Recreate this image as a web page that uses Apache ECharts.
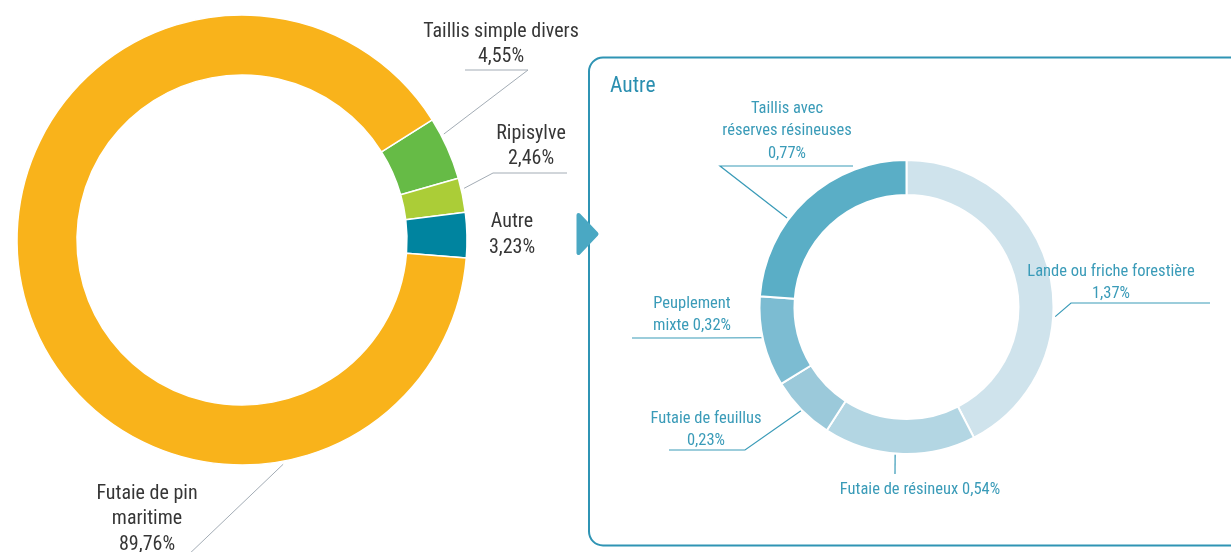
<!DOCTYPE html>
<html>
<head>
<meta charset="utf-8">
<script src="https://cdn.jsdelivr.net/npm/echarts@6/dist/echarts.min.js"></script>
<style>
  html, body { margin: 0; padding: 0; background: #ffffff; }
  #chart { width: 1231px; height: 552px; }
</style>
</head>
<body>
<div id="chart"></div>
<script>
// Répartition des peuplements forestiers (% de la surface)
const mainNames = ['Taillis simple divers', 'Ripisylve', 'Autre', 'Futaie de pin maritime'];
const mainValues = [4.55, 2.46, 3.23, 89.76];
const mainColors = ['#66bb46', '#abcd37', '#00849f', '#f9b31b'];

// Détail de la catégorie « Autre »
const autreNames = ['Lande ou friche forestière', 'Futaie de résineux', 'Futaie de feuillus', 'Peuplement mixte', 'Taillis avec réserves résineuses'];
const autreValues = [1.37, 0.54, 0.23, 0.32, 0.77];
const autreColors = ['#cfe3ec', '#b3d6e3', '#9bc9da', '#7cbcd2', '#5aaec6'];

// Label text with line breaks; {v} stands for the formatted value
const mainLabelText = ['Taillis simple divers\n{v}', 'Ripisylve\n{v}', 'Autre\n{v}', 'Futaie de pin\nmaritime\n{v}'];
const autreLabelText = ['Lande ou friche forestière\n{v}', 'Futaie de résineux {v}', 'Futaie de feuillus\n{v}', 'Peuplement\nmixte {v}', 'Taillis avec\nréserves résineuses\n{v}'];

const FONT = "'Roboto Condensed', 'Liberation Sans Narrow', 'DejaVu Sans Condensed', sans-serif";
const TEAL = '#3a9bb8';

// Pick a font size so that a reference string takes the wanted width
function fitSize(text, width) {
  const ctx = document.createElement('canvas').getContext('2d');
  ctx.font = '100px ' + FONT;
  return Math.round(100 * width / ctx.measureText(text).width * 2) / 2;
}
const mainFontSize = fitSize('Taillis simple divers', 156);
const autreFontSize = fitSize('Futaie de résineux 0,54%', 161);
const titleFontSize = fitSize('Autre', 45);

// Geometry of both rings (pixels)
const mainCenter = [242, 240], mainRadius = [165, 225];
const autreCenter = [906.5, 307], autreRadius = [112, 147];

// Label placement: text centre, anchor angle on the ring (deg), elbow and end of the leader
const mainLabelPos = [
  { x: 501, y: 44.5, anchor: 27.7, r: 228, elbow: [528, 70], end: [465, 70] },
  { x: 531, y: 146.5, anchor: 13.1, r: 228, elbow: [493, 173], end: [567, 173] },
  { x: 512, y: 235 },
  { x: 147, y: 519, anchor: -79.6, r: 228, elbow: [185, 558], end: [185, 558] }
];
const autreLabelPos = [
  { x: 1111, y: 283, anchor: -3.7, r: 149, elbow: [1071, 303], end: [1210, 303] },
  { x: 920, y: 490, anchor: 265.6, r: 148, elbow: [895, 474], end: [895, 474] },
  { x: 706, y: 430, anchor: 224.5, r: 148, elbow: [745, 450], end: [669, 450] },
  { x: 692, y: 315, anchor: 192, r: 148, elbow: [700, 338], end: [632, 338] },
  { x: 787, y: 131, anchor: 143.3, r: 149, elbow: [720, 166], end: [853, 166] }
];

function fmt(v) { return v.toFixed(2).replace('.', ',') + '%'; }
function polar(c, r, deg) {
  const a = deg * Math.PI / 180;
  return [c[0] + r * Math.cos(a), c[1] - r * Math.sin(a)];
}
function makeLayout(posList, center) {
  return function (p) {
    const L = posList[p.dataIndex];
    const out = { x: L.x, y: L.y, align: 'center', verticalAlign: 'middle' };
    if (L.anchor != null) {
      out.labelLinePoints = [polar(center, L.r, L.anchor), L.elbow, L.end];
    }
    return out;
  };
}
function makeData(names, values, colors, texts, posList) {
  return names.map(function (n, i) {
    return {
      name: n,
      value: values[i],
      itemStyle: { color: colors[i] },
      label: { formatter: texts[i].replace('{v}', fmt(values[i])) },
      labelLine: { show: posList[i].anchor != null }
    };
  });
}

const chart = echarts.init(document.getElementById('chart'), null, { renderer: 'canvas' });

chart.setOption({
  animation: false,
  backgroundColor: '#ffffff',
  graphic: [
    {
      type: 'rect', z: 1,
      shape: { x: 589, y: 57.5, width: 700, height: 488, r: 14 },
      style: { fill: 'none', stroke: '#2f94b4', lineWidth: 2 }
    },
    {
      type: 'polygon', z: 5,
      shape: { points: [[578.5, 215], [596.5, 234], [578.5, 253]] },
      style: { fill: '#4aa8c3', stroke: '#4aa8c3', lineWidth: 4, lineJoin: 'round' }
    },
    {
      type: 'text', z: 5, left: 610, top: 89 - titleFontSize * 0.6,
      style: { text: 'Autre', fill: '#2b8fb0', font: titleFontSize + 'px ' + FONT }
    }
  ],
  series: [
    {
      type: 'pie',
      center: mainCenter,
      radius: mainRadius,
      startAngle: 32.3,
      clockwise: true,
      avoidLabelOverlap: false,
      itemStyle: { borderColor: '#ffffff', borderWidth: 1.5 },
      label: {
        show: true, position: 'outside',
        color: '#363636', fontFamily: FONT, fontSize: mainFontSize, lineHeight: 25.5, align: 'center'
      },
      labelLine: { show: true, smooth: false, lineStyle: { color: '#a3acb5', width: 1 } },
      labelLayout: makeLayout(mainLabelPos, mainCenter),
      emphasis: { disabled: true },
      data: makeData(mainNames, mainValues, mainColors, mainLabelText, mainLabelPos)
    },
    {
      type: 'pie',
      center: autreCenter,
      radius: autreRadius,
      startAngle: 90,
      clockwise: true,
      avoidLabelOverlap: false,
      itemStyle: { borderColor: '#ffffff', borderWidth: 2 },
      label: {
        show: true, position: 'outside',
        color: TEAL, fontFamily: FONT, fontSize: autreFontSize, lineHeight: 22.5, align: 'center'
      },
      labelLine: { show: true, smooth: false, lineStyle: { color: TEAL, width: 1.2 } },
      labelLayout: makeLayout(autreLabelPos, autreCenter),
      emphasis: { disabled: true },
      data: makeData(autreNames, autreValues, autreColors, autreLabelText, autreLabelPos)
    }
  ]
});
</script>
</body>
</html>
